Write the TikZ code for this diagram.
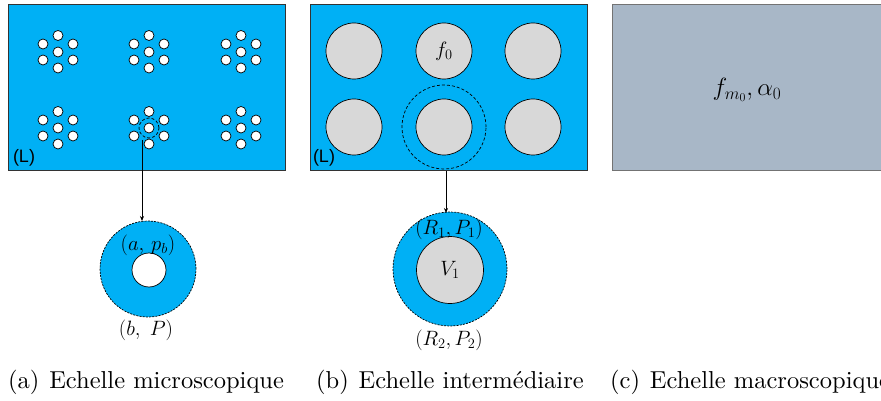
\documentclass[tikz,border=0pt]{standalone}
\usepackage{fontspec}
\setmainfont{lmroman10-regular.otf}[BoldFont=lmroman10-bold.otf,ItalicFont=lmroman10-italic.otf]
\newfontfamily\labelsf{Liberation Sans}
\usetikzlibrary{arrows.meta}
\definecolor{cblue}{RGB}{0,176,245}
\definecolor{cgray}{RGB}{216,216,216}
\definecolor{cmacro}{RGB}{168,183,199}
\begin{document}
\begin{tikzpicture}[x=1pt,y=-1pt,
  dot/.style={circle,draw,fill=white,inner sep=0pt,minimum size=10pt,line width=0.7pt},
  fibre/.style={circle,draw,fill=cgray,inner sep=0pt,minimum size=56pt,line width=0.7pt},
  panel/.style={draw=black!80,fill=cblue,line width=0.8pt},
  dashc/.style={circle,draw,dash pattern=on 3pt off 2pt,inner sep=0pt,line width=0.7pt},
  annulus/.style={circle,draw,dash pattern=on 2pt off 1.2pt,fill=cblue,inner sep=0pt,line width=0.7pt},
  conn/.style={-{Stealth[length=5pt,width=4pt]},line width=0.7pt},
  mlab/.style={inner sep=0pt,font=\fontsize{20.5}{24}\selectfont},
  caption/.style={anchor=base west,inner sep=0pt,font=\fontsize{24.5}{30}\selectfont},
  llab/.style={inner sep=0pt,font=\labelsf\fontsize{18}{21}\selectfont}]
\useasboundingbox (0,0) rectangle (881,401);
\clip (0,0) rectangle (881,401);

% ---------- panel (a)
\node[panel,minimum width=277pt,minimum height=166pt,inner sep=0pt] (pa) at (146.5,87) {};
\foreach \cx/\cy/\n in {58/52/c1,149/52/c2,241/52/c3,58/128/c4,149/128/c5,241/128/c6}{
  \node[dot] (\n m) at (\cx,\cy) {};
  \node[dot] (\n t) at (\cx,{\cy-16.5}) {};
  \node[dot] (\n b) at (\cx,{\cy+16}) {};
  \node[dot] (\n tl) at ({\cx-15},{\cy-8}) {};
  \node[dot] (\n tr) at ({\cx+15},{\cy-8}) {};
  \node[dot] (\n bl) at ({\cx-15},{\cy+8}) {};
  \node[dot] (\n br) at ({\cx+15},{\cy+8}) {};
}
\node[dashc,minimum size=20pt] (dA) at (149,128) {};
\node[llab] (La) at (24,158) {(L)};

\node[annulus,minimum size=96pt] (annA) at (148,269) {};
\node[circle,draw,fill=white,inner sep=0pt,minimum size=34pt,line width=0.7pt] (holeA) at (149,270) {};
\node[mlab] (lab1) at (148,245) {$(a,\,p_b)$};
\node[mlab] (lab2) at (146,330) {$(b,\;P)$};
\coordinate (sA) at (142,140);
\coordinate (eA) at (142,221);
\draw[conn] (sA) -- (eA);

% ---------- panel (b)
\node[panel,minimum width=277pt,minimum height=166pt,inner sep=0pt] (pb) at (448.5,87) {};
\node[fibre] (f1) at (354,51) {};
\node[fibre,font=\fontsize{22}{26}\selectfont] (f2) at (444,51) {$f_0$};
\node[fibre] (f3) at (533,51) {};
\node[fibre] (f4) at (354,127) {};
\node[fibre] (f5) at (444,127) {};
\node[fibre] (f6) at (533,127) {};
\node[dashc,minimum size=84pt] (dB) at (444,127) {};
\node[llab] (Lb) at (324,158) {(L)};

\node[annulus,minimum size=114pt] (annB) at (450,269) {};
\node[circle,draw,fill=cgray,inner sep=0pt,minimum size=67pt,line width=0.7pt] (coreB) at (450,270) {};
\node[mlab] (lab3) at (449,229) {$(R_1,P_1)$};
\node[mlab] (lab4) at (450,270) {$V_1$};
\node[mlab] (lab5) at (449,340) {$(R_2,P_2)$};
\coordinate (sB) at (446,171);
\coordinate (eB) at (446,213);
\draw[conn] (sB) -- (eB);

% ---------- panel (c)
\node[draw=black!55,fill=cmacro,line width=0.8pt,minimum width=290pt,minimum height=166pt,inner sep=0pt] (pc) at (757,87) {};
\node[inner sep=0pt,font=\fontsize{25}{30}\selectfont] (lab6) at (747,90) {$f_{m_0},\alpha_0$};

% ---------- captions
\node[caption] (capa) at (8,388) {(a)\hspace{0.4em}Echelle microscopique};
\node[caption] (capb) at (316,388) {(b)\hspace{0.4em}Echelle intermédiaire};
\node[caption] (capc) at (610,388) {(c)\hspace{0.4em}Echelle macroscopique};
\end{tikzpicture}
\end{document}
